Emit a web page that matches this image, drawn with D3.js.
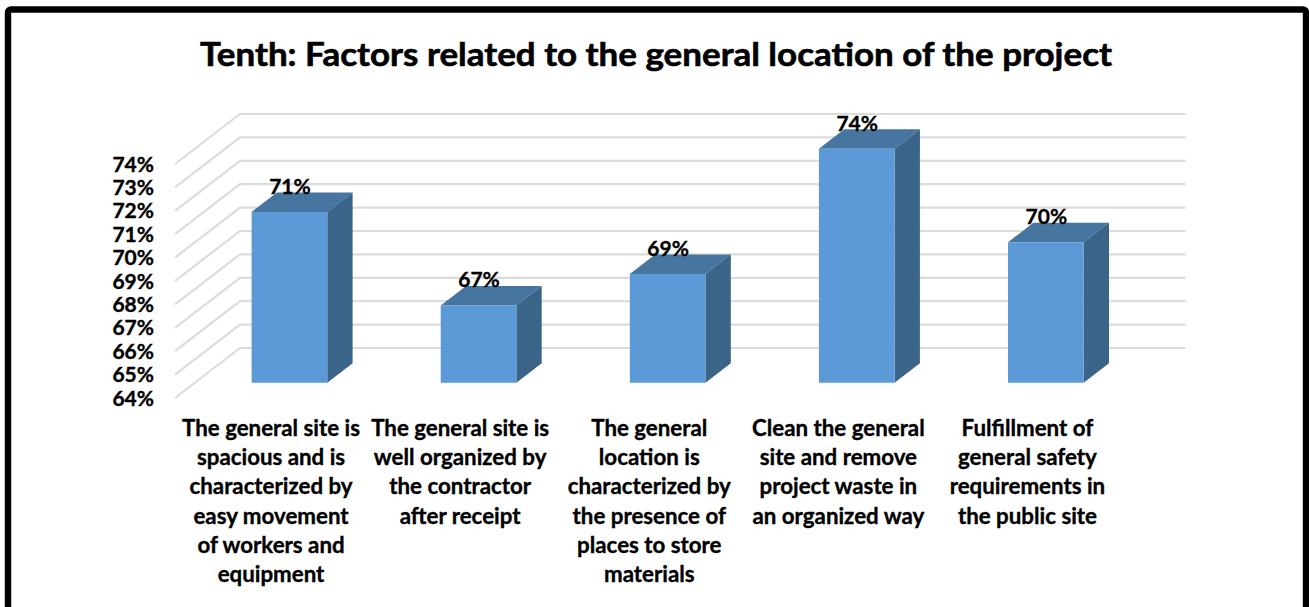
<!DOCTYPE html>
<html><head><meta charset="utf-8">
<script src="https://cdn.jsdelivr.net/npm/d3@7/dist/d3.min.js"></script>
<style>html,body{margin:0;padding:0;background:#fff;overflow:hidden}svg{display:block}text{font-family:Lato,"Open Sans",sans-serif;font-weight:700;fill:#000;stroke:#000;stroke-width:.35px}</style>
</head><body><svg id="c" width="1309" height="607"></svg>
<script>
const titleText = "Tenth: Factors related to the general location of the project";
const categories = [
  ["The general site is","spacious and is","characterized by","easy movement","of workers and","equipment"],
  ["The general site is","well organized by","the contractor","after receipt"],
  ["The general","location is","characterized by","the presence of","places to store","materials"],
  ["Clean the general","site and remove","project waste in","an organized way"],
  ["Fulfillment of","general safety","requirements in","the public site"]
];
const values = [71.3, 67.3, 68.65, 74.0, 70.0];
const yTicks = [64,65,66,67,68,69,70,71,72,73,74];

const svg = d3.select("#c");
const y = d3.scaleLinear().domain([64,74]).range([398,164]);
const x = d3.scaleBand().domain(d3.range(categories.length)).range([240,1185.5]).paddingInner(0).paddingOuter(0);
// oblique depth of the 3D box: f = 0 front, f = 1 back wall
const depthX = d3.scaleLinear().domain([0,1]).range([-65,0]);
const depthY = d3.scaleLinear().domain([0,1]).range([0,-50]);
const f0 = 0.306, f1 = 0.696, barFrac = 0.4;
const px = (xv,f) => xv + depthX(f);
const py = (v,f) => y(v) + depthY(f);
const line = d3.line();

// frame
svg.append("rect").attr("x",8).attr("y",9.5).attr("width",1298).attr("height",720).attr("rx",3)
  .attr("fill","#fff").attr("stroke","#000").attr("stroke-width",6.4);

// title
svg.append("text").attr("x",656).attr("y",66).attr("text-anchor","middle").style("stroke-width","0.6px")
  .attr("font-size",33).attr("textLength",912).attr("lengthAdjust","spacingAndGlyphs").text(titleText);

// gridlines: side wall + back wall
const grid = svg.append("g").attr("fill","none").attr("stroke","#dcdcdc").attr("stroke-width",2.2);
grid.selectAll("path").data(yTicks).join("path").attr("d",v => line([
  [px(240,0),py(v,0)],[px(240,1),py(v,1)],[1185.5,py(v,1)]
]));

// tick labels
svg.append("g").selectAll("text").data(yTicks).join("text")
  .attr("x",154).attr("y",v => y(v)+7.5).attr("text-anchor","end").attr("font-size",21)
  .text(v => v+"%");

// bars
const bars = svg.append("g").selectAll("g").data(values).join("g");
const bx0 = (d,i) => x(i)+x.bandwidth()*(0.5-barFrac/2);
const bx1 = (d,i) => x(i)+x.bandwidth()*(0.5+barFrac/2);
bars.append("path").attr("fill","#46759f").attr("d",(d,i)=>line([
  [px(bx0(d,i),f0),py(d,f0)],[px(bx1(d,i),f0),py(d,f0)],[px(bx1(d,i),f1),py(d,f1)],[px(bx0(d,i),f1),py(d,f1)]
])+"Z");
bars.append("path").attr("fill","#3a6488").attr("d",(d,i)=>line([
  [px(bx1(d,i),f0),py(d,f0)],[px(bx1(d,i),f1),py(d,f1)],[px(bx1(d,i),f1),py(64,f1)],[px(bx1(d,i),f0),py(64,f0)]
])+"Z");
bars.append("path").attr("fill","#5b9ad6").attr("d",(d,i)=>line([
  [px(bx0(d,i),f0),py(d,f0)],[px(bx1(d,i),f0),py(d,f0)],[px(bx1(d,i),f0),py(64,f0)],[px(bx0(d,i),f0),py(64,f0)]
])+"Z");

// value labels
svg.append("g").selectAll("text").data(values).join("text")
  .attr("x",(d,i)=>(px(bx0(d,i),f0)+px(bx1(d,i),f0))/2+0.5)
  .attr("y",d=>py(d,f0)-18).attr("text-anchor","middle").attr("font-size",21)
  .text(d=>d3.format(".0%")(d/100));

// category labels
const cat = svg.append("g").selectAll("text").data(categories).join("text")
  .attr("text-anchor","middle").attr("font-size",22.3);
cat.selectAll("tspan").data((d,i)=>d.map(s=>({s,i}))).join("tspan")
  .attr("x",d=>px(x(d.i)+x.bandwidth()/2,0)+1.5)
  .attr("y",(d,j)=>436+j*29.2).text(d=>d.s);
</script></body></html>
